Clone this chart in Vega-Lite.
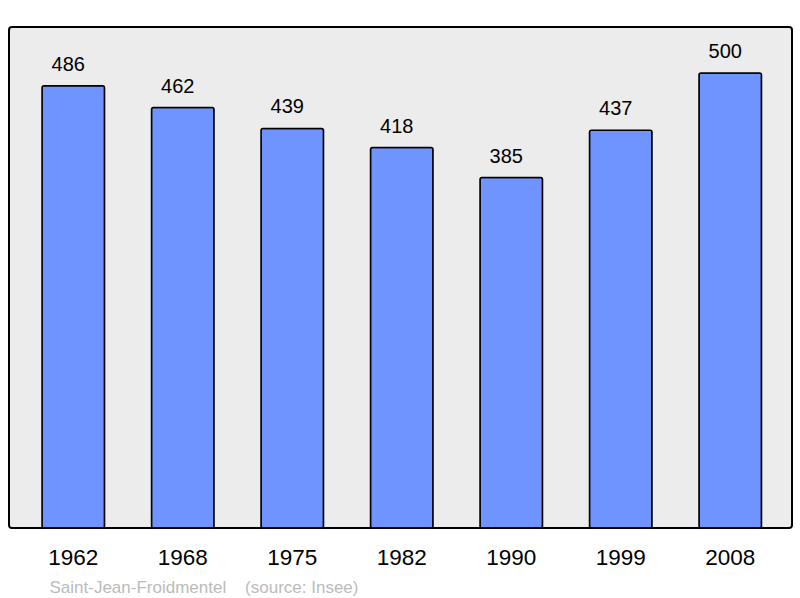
{
  "$schema": "https://vega.github.io/schema/vega-lite/v6.json",
  "autosize": {"type": "none"},
  "width": 783,
  "height": 501,
  "padding": {"left": 9, "top": 27, "right": 8, "bottom": 70},
  "background": "white",
  "config": {
    "font": "Liberation Sans",
    "view": {"stroke": "black", "strokeWidth": 2, "fill": "#ececec", "cornerRadius": 3}
  },
  "data": {
    "values": [
      {"year": "1962", "pop": 486},
      {"year": "1968", "pop": 462},
      {"year": "1975", "pop": 439},
      {"year": "1982", "pop": 418},
      {"year": "1990", "pop": 385},
      {"year": "1999", "pop": 437},
      {"year": "2008", "pop": 500}
    ]
  },
  "encoding": {
    "x": {
      "field": "year",
      "type": "nominal",
      "sort": null,
      "scale": {"paddingInner": 0.429, "paddingOuter": 0.29, "align": 0.52},
      "axis": {
        "title": "Saint-Jean-Froidmentel \u00a0\u00a0\u00a0(source: Insee)",
        "titleX": 40,
        "titleY": 64,
        "titleAlign": "left",
        "titleAnchor": null,
        "titleBaseline": "alphabetic",
        "titleFontSize": 17,
        "titleFontWeight": "normal",
        "titleColor": "#bbbbbb",
        "titleFont": "Liberation Sans",
        "labelAngle": 0,
        "labelFontSize": 22.5,
        "labelColor": "black",
        "labelFont": "Liberation Sans",
        "labelBaseline": "alphabetic",
        "labelPadding": 36,
        "ticks": false,
        "tickSize": 0,
        "domain": false,
        "grid": false
      }
    },
    "y": {
      "field": "pop",
      "type": "quantitative",
      "scale": {"domain": [0, 550.5], "nice": false, "zero": true},
      "axis": null
    }
  },
  "layer": [
    {
      "mark": {"type": "bar", "fill": "#7094ff", "stroke": "black", "strokeWidth": 1.5, "cornerRadius": 2}
    },
    {
      "mark": {"type": "text", "dy": -15, "dx": -5, "baseline": "alphabetic", "fontSize": 20, "font": "Liberation Sans", "color": "black"},
      "encoding": {"text": {"field": "pop", "type": "quantitative"}}
    }
  ]
}
